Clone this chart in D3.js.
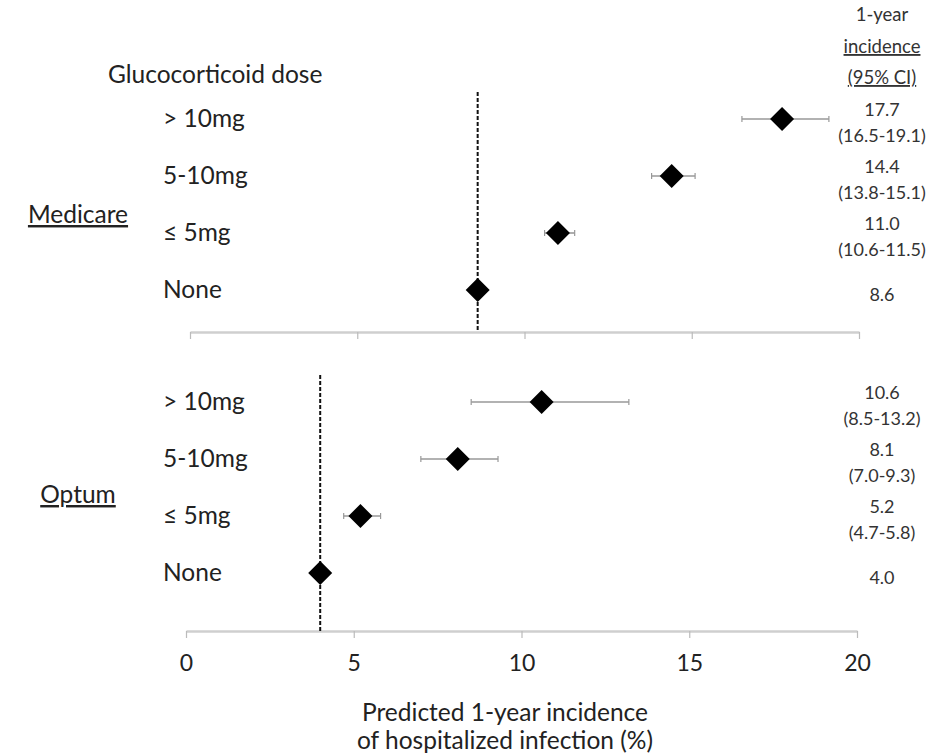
<!DOCTYPE html>
<html>
<head>
<meta charset="utf-8">
<script src="https://cdn.jsdelivr.net/npm/d3@7"></script>
<style>
  body { margin: 0; background: #fff; }
  svg { font-family: Lato, "Open Sans", sans-serif; }
</style>
</head>
<body>
<script>
// ----- Data -----
const doseLabels = ["> 10mg", "5-10mg", "\u2264 5mg", "None"];
const cohorts = ["Medicare", "Optum"];

const medicareEst = [17.7, 14.4, 11.0, 8.6];
const medicareLow = [16.5, 13.8, 10.6, null];
const medicareHigh = [19.1, 15.1, 11.5, null];

const optumEst = [10.6, 8.1, 5.2, 4.0];
const optumLow = [8.5, 7.0, 4.7, null];
const optumHigh = [13.2, 9.3, 5.8, null];

const xTicks = [0, 5, 10, 15, 20];

// ----- Layout -----
const W = 950, H = 755;
const panels = [
    { name: cohorts[0], est: medicareEst, low: medicareLow, high: medicareHigh,
      rowTop: 119, axisY: 332, dashTop: 92, nameY: 223, rangeX: [190, 859] },
    { name: cohorts[1], est: optumEst, low: optumLow, high: optumHigh,
      rowTop: 402, axisY: 631, dashTop: 375, nameY: 503, rangeX: [186, 857] }
];
const rowStep = 57;
const labelSize = 24.5;
const colSize = 18;
const colX = 882;

const svg = d3.select("body").append("svg")
    .attr("width", W)
    .attr("height", H);

svg.append("text")
    .text("Glucocorticoid dose")
    .attr("x", 108).attr("y", 83)
    .attr("font-size", labelSize)
    .attr("fill", "#222");

// right-hand column header
const header = svg.append("g")
    .attr("font-size", colSize + 0.5)
    .attr("fill", "#333")
    .attr("text-anchor", "middle");
header.append("text").text("1-year").attr("x", colX).attr("y", 21);
header.append("text").text("incidence").attr("x", colX).attr("y", 53)
    .attr("text-decoration", "underline");
header.append("text").text("(95% CI)").attr("x", colX).attr("y", 84)
    .attr("text-decoration", "underline");

panels.forEach(p => {
    const x = d3.scaleLinear().domain([0, 20]).range(p.rangeX);
    const y = d3.scaleLinear().domain([0, 1]).range([p.rowTop, p.rowTop + rowStep]);
    const rows = p.est.map((v, i) => ({ label: doseLabels[i], est: v, low: p.low[i], high: p.high[i], i }));
    const g = svg.append("g");

    // cohort name
    g.append("text")
        .text(p.name)
        .attr("x", 78).attr("y", p.nameY)
        .attr("text-anchor", "middle")
        .attr("font-size", labelSize)
        .attr("text-decoration", "underline")
        .attr("fill", "#222");

    // dose labels
    g.selectAll("text.dose")
        .data(rows)
        .enter()
        .append("text")
            .attr("class", "dose")
            .text(d => d.label)
            .attr("x", 163)
            .attr("y", d => y(d.i) + 8)
            .attr("font-size", labelSize)
            .attr("fill", "#222");

    // axis
    const axis = d3.axisBottom(x)
        .tickValues(xTicks)
        .tickSize(7)
        .tickSizeOuter(0)
        .tickFormat(p.name === "Optum" ? d3.format("d") : "");
    const ax = g.append("g")
        .attr("transform", `translate(0, ${p.axisY})`)
        .call(axis);
    ax.select(".domain").attr("stroke", "#cfcfcf").attr("stroke-width", 2.5);
    ax.selectAll(".tick line").attr("stroke", "#bbb").attr("stroke-width", 1.2);
    ax.selectAll(".tick text")
        .attr("font-family", "Lato, 'Open Sans', sans-serif")
        .attr("font-size", 23)
        .attr("fill", "#222")
        .attr("y", 40)
        .attr("dy", 0);

    // reference line at "None"
    const ref = p.est[p.est.length - 1];
    g.append("line")
        .attr("x1", x(ref)).attr("x2", x(ref))
        .attr("y1", p.dashTop).attr("y2", p.axisY)
        .attr("stroke", "#111")
        .attr("stroke-width", 2)
        .attr("stroke-dasharray", "4,2");

    // error bars
    const ci = rows.filter(d => d.low !== null);
    g.selectAll("line.ci")
        .data(ci)
        .enter()
        .append("line")
            .attr("class", "ci")
            .attr("x1", d => x(d.low)).attr("x2", d => x(d.high))
            .attr("y1", d => y(d.i)).attr("y2", d => y(d.i))
            .attr("stroke", "#999").attr("stroke-width", 1.6);
    ["low", "high"].forEach(k => {
        g.selectAll("line.cap-" + k)
            .data(ci)
            .enter()
            .append("line")
                .attr("class", "cap-" + k)
                .attr("x1", d => x(d[k])).attr("x2", d => x(d[k]))
                .attr("y1", d => y(d.i) - 3).attr("y2", d => y(d.i) + 3)
                .attr("stroke", "#999").attr("stroke-width", 1.2);
    });

    // diamonds
    g.selectAll("path.pt")
        .data(rows)
        .enter()
        .append("path")
            .attr("class", "pt")
            .attr("d", "M0,-12L12,0L0,12L-12,0Z")
            .attr("transform", d => `translate(${x(d.est)}, ${y(d.i)})`)
            .attr("fill", "#000");

    // right column values
    const vals = g.append("g")
        .attr("font-size", colSize)
        .attr("fill", "#333")
        .attr("text-anchor", "middle");
    rows.forEach(d => {
        if (d.low === null) {
            vals.append("text").text(d3.format(".1f")(d.est))
                .attr("x", colX).attr("y", y(d.i) + 11);
        } else {
            vals.append("text").text(d3.format(".1f")(d.est))
                .attr("x", colX).attr("y", y(d.i) - 3);
            vals.append("text")
                .text(`(${d3.format(".1f")(d.low)}-${d3.format(".1f")(d.high)})`)
                .attr("x", colX).attr("y", y(d.i) + 23);
        }
    });
});

// x axis title
const title = svg.append("g")
    .attr("font-size", labelSize)
    .attr("fill", "#222")
    .attr("text-anchor", "middle");
title.append("text").text("Predicted 1-year incidence").attr("x", 505).attr("y", 721);
title.append("text").text("of hospitalized infection (%)").attr("x", 505).attr("y", 749);
</script>
</body>
</html>
